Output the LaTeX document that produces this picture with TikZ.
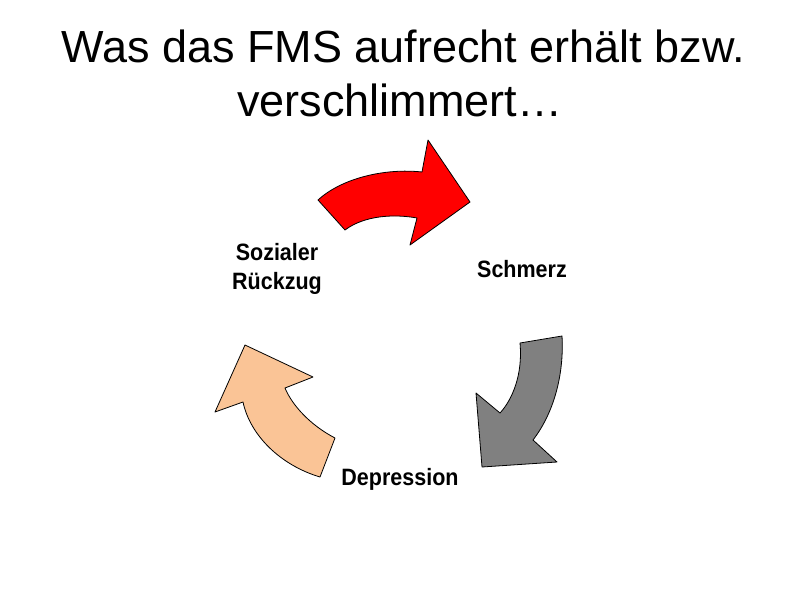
\documentclass[tikz,border=0pt]{standalone}
\usepackage{fontspec}
\setmainfont{Liberation Sans}
\begin{document}
\begin{tikzpicture}[x=1pt,y=-1pt,
  arr/.style={draw=black,line width=0.8pt,line join=round},
  lbl/.style={font=\fontsize{21.5}{26}\selectfont\bfseries,align=center,inner sep=0pt,yscale=1.1},
  ttl/.style={font=\fontsize{45}{52}\selectfont,inner sep=0pt}]
\useasboundingbox[fill=white] (0,0) rectangle (800,600);
\node[ttl,anchor=base west] (t1) at (61,62) {Was das FMS aufrecht erhält bzw.};
\node[ttl,anchor=base west] (t2) at (237,116) {verschlimmert…};
% red arrow
\fill[arr,fill=red] (318,200) .. controls (342,178) and (385,168) .. (422,172) -- (428,140) -- (470,202) -- (410,245) -- (417,218) .. controls (395,214) and (365,215) .. (345,230) -- cycle;
% gray arrow
\fill[arr,fill=gray] (520,343) -- (562,336) .. controls (564,370) and (556,410) .. (533,440) -- (557,462) -- (482,467) -- (476,393) -- (500,413) .. controls (512,400) and (523,375) .. (520,343) -- cycle;
% peach arrow
\fill[arr,fill={rgb,255:red,250;green,196;blue,150}] (320,477) -- (335,438) .. controls (310,425) and (292,405) .. (285,388) -- (313,377) -- (245,345) -- (215,412) -- (243,402) .. controls (250,435) and (280,465) .. (320,477) -- cycle;
\node[lbl] (soz) at (277,269) {Sozialer\\Rückzug};
\node[lbl] (sch) at (522,269) {Schmerz};
\node[lbl] (dep) at (400,479) {Depression};
\end{tikzpicture}
\end{document}
